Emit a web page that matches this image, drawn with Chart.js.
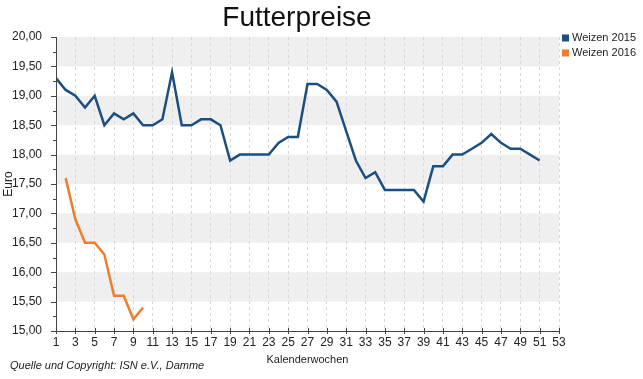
<!DOCTYPE html>
<html>
<head>
<meta charset="utf-8">
<script src="https://cdn.jsdelivr.net/npm/chart.js@4/dist/chart.umd.min.js"></script>
<style>
  html, body { margin: 0; padding: 0; background: #fff; }
  #wrap { width: 643px; height: 379px; position: relative; }
</style>
</head>
<body>
<div id="wrap"><canvas id="c" width="643" height="379"></canvas></div>
<script>
// ---- Data ----
const chartTitle = "Futterpreise";
const footerText = "Quelle und Copyright: ISN e.V., Damme";
const xTitle = "Kalenderwochen";
const yTitle = "Euro";

const weeks2015 = [1,2,3,4,5,6,7,8,9,10,11,12,13,14,15,16,17,18,19,20,21,22,23,24,25,26,27,28,29,30,31,32,33,34,35,36,37,38,39,40,41,42,43,44,45,46,47,48,49,50,51];
const weizen2015 = [19.3,19.1,19.0,18.8,19.0,18.5,18.7,18.6,18.7,18.5,18.5,18.6,19.4,18.5,18.5,18.6,18.6,18.5,17.9,18.0,18.0,18.0,18.0,18.2,18.3,18.3,19.2,19.2,19.1,18.9,18.4,17.9,17.6,17.7,17.4,17.4,17.4,17.4,17.2,17.8,17.8,18.0,18.0,18.1,18.2,18.35,18.2,18.1,18.1,18.0,17.9];

const weeks2016 = [2,3,4,5,6,7,8,9,10];
const weizen2016 = [17.6,16.9,16.5,16.5,16.3,15.6,15.6,15.2,15.4];

const xTickValues = [1,3,5,7,9,11,13,15,17,19,21,23,25,27,29,31,33,35,37,39,41,43,45,47,49,51,53];
const yTickValues = [15,15.25,15.5,15.75,16,16.25,16.5,16.75,17,17.25,17.5,17.75,18,18.25,18.5,18.75,19,19.25,19.5,19.75,20];
const yBands = [[15.5,16],[16.5,17],[17.5,18],[18.5,19],[19.5,20]];

const seriesNames = ["Weizen 2015", "Weizen 2016"];
const seriesColors = ["#1b4f82", "#ef7d31"];

// ---- Plugins ----
const FONT = "'Liberation Sans', Arial, sans-serif";

const bandsPlugin = {
  id: 'bands',
  beforeDraw(chart) {
    const {ctx, chartArea: a, scales: {y}} = chart;
    ctx.save();
    ctx.fillStyle = '#ffffff';
    ctx.fillRect(0, 0, chart.width, chart.height);
    ctx.fillStyle = '#efefef';
    yBands.forEach(([lo, hi]) => {
      const y1 = y.getPixelForValue(hi), y2 = y.getPixelForValue(lo);
      ctx.fillRect(a.left, y1, a.right - a.left, y2 - y1);
    });
    ctx.restore();
  }
};

const decoPlugin = {
  id: 'deco',
  afterDraw(chart) {
    const {ctx, chartArea: a, scales: {x, y}} = chart;
    ctx.save();
    // solid axis lines
    ctx.strokeStyle = '#444';
    ctx.lineWidth = 1;
    ctx.setLineDash([]);
    ctx.beginPath();
    ctx.moveTo(a.left + 0.5, a.top);
    ctx.lineTo(a.left + 0.5, a.bottom);
    ctx.moveTo(a.left, Math.round(a.bottom) + 0.5);
    ctx.lineTo(a.right, Math.round(a.bottom) + 0.5);
    // tick marks
    yTickValues.forEach(v => {
      const py = Math.round(y.getPixelForValue(v)) + 0.5;
      const major = Math.abs(v * 2 - Math.round(v * 2)) < 1e-6;
      ctx.moveTo(a.left - (major ? 5 : 3), py);
      ctx.lineTo(a.left, py);
    });
    xTickValues.forEach(v => {
      const px = Math.round(x.getPixelForValue(v)) + 0.5;
      ctx.moveTo(px, a.bottom - 3);
      ctx.lineTo(px, a.bottom + 3);
    });
    ctx.stroke();

    // title
    ctx.fillStyle = '#111';
    ctx.font = "28px " + FONT;
    ctx.textAlign = 'center';
    ctx.textBaseline = 'alphabetic';
    ctx.fillText(chartTitle, 297, 26);

    // legend
    ctx.font = "11px " + FONT;
    ctx.textAlign = 'left';
    ctx.textBaseline = 'middle';
    seriesNames.forEach((n, i) => {
      const cy = 38 + i * 15;
      ctx.fillStyle = seriesColors[i];
      ctx.fillRect(562, cy - 3.5, 7, 7);
      ctx.fillStyle = '#222';
      ctx.fillText(n, 572, cy);
    });

    // footer
    ctx.font = "italic 11px " + FONT;
    ctx.textAlign = 'left';
    ctx.textBaseline = 'alphabetic';
    ctx.fillStyle = '#222';
    ctx.fillText(footerText, 10, 369);
    ctx.restore();
  }
};

const toPoints = (xs, ys) => xs.map((w, i) => ({x: w, y: ys[i]}));

new Chart(document.getElementById('c'), {
  type: 'line',
  data: {
    datasets: [
      { label: seriesNames[0], data: toPoints(weeks2015, weizen2015), borderColor: seriesColors[0], backgroundColor: seriesColors[0], borderWidth: 2.5, pointRadius: 0, tension: 0, fill: false },
      { label: seriesNames[1], data: toPoints(weeks2016, weizen2016), borderColor: seriesColors[1], backgroundColor: seriesColors[1], borderWidth: 2.5, pointRadius: 0, tension: 0, fill: false }
    ]
  },
  options: {
    responsive: false,
    animation: false,
    events: [],
    layout: { padding: { left: 0, top: 37, right: 84, bottom: 0 } },
    plugins: {
      legend: { display: false },
      title: { display: false },
      tooltip: { enabled: false }
    },
    scales: {
      x: {
        type: 'linear',
        min: 1, max: 53,
        afterBuildTicks: s => { s.ticks = xTickValues.map(v => ({value: v})); },
        afterFit: s => { s.height = 48; },
        ticks: { color: '#222', font: { family: FONT, size: 12 }, padding: 4, maxRotation: 0, autoSkip: false, callback: v => String(v) },
        grid: { display: true, drawOnChartArea: true, drawTicks: false, color: '#d8d8d8', lineWidth: 1 },
        border: { display: false, color: '#444', width: 1, dash: [3, 3] },
        title: { display: true, text: xTitle, color: '#222', font: { family: FONT, size: 11 }, padding: { top: 0, bottom: 12 } }
      },
      y: {
        type: 'linear',
        min: 15, max: 20,
        afterBuildTicks: s => { s.ticks = yTickValues.map(v => ({value: v})); },
        afterFit: s => { s.width = 56; },
        ticks: {
          color: '#222', font: { family: FONT, size: 12 }, padding: 6, autoSkip: false,
          callback: v => (Math.abs(v * 2 - Math.round(v * 2)) < 1e-6) ? v.toFixed(2).replace('.', ',') : ''
        },
        grid: { display: false },
        border: { display: false, color: '#444', width: 1 },
        title: { display: true, text: yTitle, color: '#222', font: { family: FONT, size: 12 }, padding: { top: 1, bottom: 0 } }
      }
    }
  },
  plugins: [bandsPlugin, decoPlugin]
});
</script>
</body>
</html>
